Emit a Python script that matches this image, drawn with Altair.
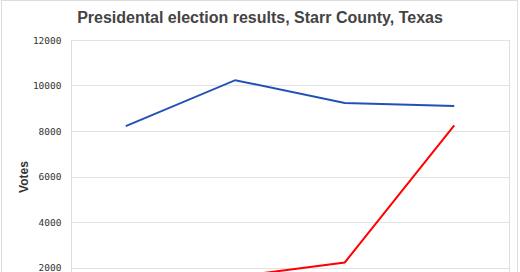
import altair as alt
import pandas as pd

years = ["2008", "2012", "2016", "2020"]
democrat = [8211, 10233, 9235, 9103]
republican = [1490, 1600, 2220, 8242]

rows = []
for y, v in zip(years, democrat):
    rows.append({"Year": y, "Party": "Democrat", "Votes": v})
for y, v in zip(years, republican):
    rows.append({"Year": y, "Party": "Republican", "Votes": v})
df = pd.DataFrame(rows)

W, H = 438, 273

lines = alt.Chart(df).mark_line(strokeWidth=2).encode(
    x=alt.X("Year:O", scale=alt.Scale(type="point", padding=0.5),
            axis=alt.Axis(title=None, labels=False, grid=False, domain=False, ticks=False)),
    y=alt.Y("Votes:Q", scale=alt.Scale(domain=[0, 12000], nice=False),
            axis=alt.Axis(values=[0, 2000, 4000, 6000, 8000, 10000, 12000], format="d",
                          title="Votes", titleFont="Liberation Sans", titleFontSize=12,
                          titleFontWeight="bold", titleColor="#333", titlePadding=2,
                          labelFont="DejaVu Sans Mono", labelFontSize=9.5, labelColor="#333",
                          labelPadding=10, domain=False, ticks=False,
                          gridColor="#e3e3e3", gridWidth=1)),
    color=alt.Color("Party:N", scale=alt.Scale(domain=["Democrat", "Republican"],
                                               range=["#1f52b4", "#ff0000"]), legend=None),
)

border = alt.Chart(df).mark_rect(fillOpacity=0, stroke="#dddddd", strokeWidth=1).encode(
    x=alt.value(-69.5), x2=alt.value(446.5), y=alt.value(-39.5), y2=alt.value(300)
)

chart = alt.layer(border, lines).properties(
    width=W, height=H,
    title=alt.TitleParams("Presidental election results, Starr County, Texas",
                          font="Liberation Sans", fontSize=16, fontWeight="bold",
                          color="#444", anchor="middle", frame="group", offset=-25.5, dx=-30),
    autosize=alt.AutoSizeParams(type="none"),
    padding={"left": 71, "top": 40, "right": 11, "bottom": 0},
).configure_view(stroke=None).configure(background="white")

chart.save("out.html", embed_options={"renderer": "svg", "actions": False})
